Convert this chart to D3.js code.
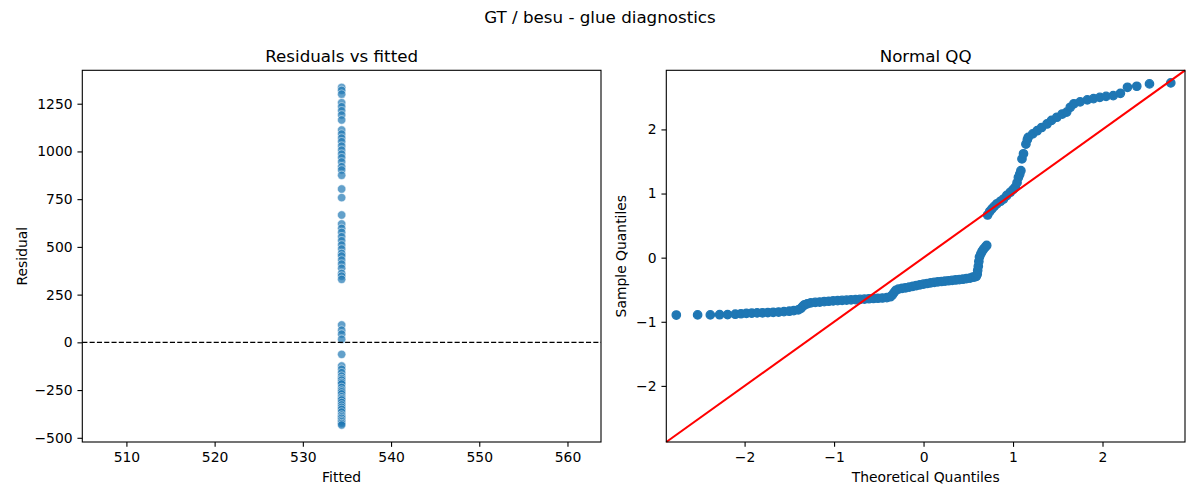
<!DOCTYPE html>
<html>
<head>
<meta charset="utf-8">
<script src="https://cdn.jsdelivr.net/npm/d3@7"></script>
<style>
  body { margin: 0; background: #fff; }
  svg { font-family: "DejaVu Sans", sans-serif; }
</style>
</head>
<body>
<div class="chart"></div>
<script>
// residuals vs fitted (one fitted value for every row)
const fittedValue = 534.4;
const residuals = [1335, 1320, 1300, 1255, 1234, 1213, 1191, 1165, 1112, 1091, 1070, 1051, 1028, 1007,
    986, 967, 945, 920, 903, 875, 803, 758, 667, 620, 597, 576, 553, 532, 510, 489, 466, 452, 431,
    410, 388, 361, 347, 330, 91, 64, 43, 16, -63, -124, -141, -159, -177, -190, -198, -210, -218,
    -236, -250, -259, -270, -285, -295, -302, -315, -328, -340, -351, -365, -381, -390, -398, -408,
    -416, -425, -433];
const residXTicks = [510, 520, 530, 540, 550, 560];
const residYTicks = [-500, -250, 0, 250, 500, 750, 1000, 1250];
const residXDomain = [505.0, 563.8];
const residYDomain = [-522, 1425];

// normal QQ points
const qqTheoretical = [-2.763, -2.525, -2.383, -2.279, -2.190, -2.104, -2.04, -1.98, -1.92, -1.86, -1.80,
    -1.74, -1.68, -1.62, -1.56, -1.50, -1.45, -1.40, -1.37, -1.35, -1.33, -1.30, -1.26, -1.21, -1.16,
    -1.11, -1.06, -1.01, -0.96, -0.91, -0.86, -0.81, -0.76, -0.71, -0.66, -0.61, -0.56, -0.51, -0.46,
    -0.41, -0.37, -0.35, -0.33, -0.31, -0.28, -0.24, -0.20, -0.16, -0.12, -0.08, -0.04, 0.00, 0.04,
    0.08, 0.12, 0.16, 0.20, 0.24, 0.28, 0.32, 0.36, 0.40, 0.44, 0.48, 0.52, 0.55, 0.575, 0.59, 0.600,
    0.605, 0.612, 0.618, 0.625, 0.64, 0.655, 0.672, 0.69, 0.706, 0.716, 0.74, 0.764, 0.79, 0.82, 0.86,
    0.894, 0.93, 0.97, 1.00, 1.025, 1.045, 1.06, 1.075, 1.088, 1.10, 1.117, 1.144, 1.16, 1.17, 1.22,
    1.27, 1.32, 1.38, 1.43, 1.49, 1.55, 1.60, 1.64, 1.68, 1.75, 1.83, 1.90, 1.97, 2.04, 2.12, 2.20,
    2.279, 2.383, 2.525, 2.763];
const qqSample = [-0.895, -0.893, -0.893, -0.890, -0.888, -0.882, -0.875, -0.868, -0.866, -0.862, -0.860,
    -0.856, -0.852, -0.848, -0.842, -0.835, -0.826, -0.815, -0.790, -0.760, -0.735, -0.720, -0.705,
    -0.698, -0.692, -0.686, -0.680, -0.675, -0.670, -0.666, -0.662, -0.658, -0.654, -0.650, -0.646,
    -0.641, -0.637, -0.633, -0.629, -0.624, -0.610, -0.585, -0.545, -0.510, -0.490, -0.480, -0.470,
    -0.460, -0.447, -0.435, -0.423, -0.413, -0.403, -0.393, -0.385, -0.378, -0.372, -0.366, -0.360,
    -0.354, -0.348, -0.342, -0.336, -0.328, -0.318, -0.305, -0.300, -0.290, -0.260, -0.200, -0.135,
    -0.060, 0.010, 0.060, 0.100, 0.135, 0.165, 0.190, 0.665, 0.720, 0.760, 0.800, 0.840, 0.880, 0.915,
    0.970, 1.020, 1.060, 1.100, 1.170, 1.250, 1.300, 1.357, 1.540, 1.620, 1.770, 1.840, 1.877, 1.930,
    1.980, 2.030, 2.085, 2.140, 2.190, 2.240, 2.270, 2.345, 2.400, 2.430, 2.460, 2.480, 2.500, 2.515,
    2.527, 2.563, 2.657, 2.673, 2.710, 2.725];
const qqTicks = [-2, -1, 0, 1, 2];
const qqDomain = [-2.875, 2.922];

const W = 1200, H = 500;
const blue = "#1f77b4";
const tickLen = 4.86;

const svg = d3.select(".chart")
    .append("svg")
    .attr("width", W)
    .attr("height", H);

svg.append("rect").attr("width", W).attr("height", H).attr("fill", "#fff");

// figure title
svg.append("text")
    .attr("x", 600)
    .attr("y", 23)
    .attr("text-anchor", "middle")
    .style("font-size", "16.7px")
    .text("GT / besu - glue diagnostics");

const minus = d => String(d).replace("-", "\u2212");

// draws frame, ticks, labels; returns inner group
function makeAxes(box, x, y, xTicks, yTicks, title, xLabel, yLabel, yLabelX) {
    const g = svg.append("g");

    g.append("g")
        .attr("transform", `translate(0,${box.bottom})`)
        .call(d3.axisBottom(x).tickValues(xTicks).tickFormat(minus)
            .tickSizeInner(tickLen).tickSizeOuter(0).tickPadding(4.86))
        .call(a => a.select(".domain").remove());

    g.append("g")
        .attr("transform", `translate(${box.left},0)`)
        .call(d3.axisLeft(y).tickValues(yTicks).tickFormat(minus)
            .tickSizeInner(tickLen).tickSizeOuter(0).tickPadding(4.86))
        .call(a => a.select(".domain").remove());

    g.selectAll(".tick line").attr("stroke", "#000").attr("stroke-width", 1.1);
    g.selectAll(".tick text")
        .attr("fill", "#000")
        .style("font-family", "DejaVu Sans")
        .style("font-size", "13.9px");

    g.append("text")
        .attr("x", (box.left + box.right) / 2)
        .attr("y", box.top - 8.5)
        .attr("text-anchor", "middle")
        .style("font-size", "16.7px")
        .text(title);

    g.append("text")
        .attr("x", (box.left + box.right) / 2)
        .attr("y", 482)
        .attr("text-anchor", "middle")
        .style("font-size", "13.9px")
        .text(xLabel);

    g.append("text")
        .attr("transform", `translate(${yLabelX},${(box.top + box.bottom) / 2}) rotate(-90)`)
        .attr("text-anchor", "middle")
        .style("font-size", "13.9px")
        .text(yLabel);

    return g;
}

function frame(box) {
    svg.append("rect")
        .attr("x", box.left)
        .attr("y", box.top)
        .attr("width", box.right - box.left)
        .attr("height", box.bottom - box.top)
        .attr("fill", "none")
        .attr("stroke", "#000")
        .attr("stroke-width", 1.1);
}

// ---- left: residuals vs fitted
const boxL = { left: 82.3, right: 601, top: 70.3, bottom: 442 };
const xL = d3.scaleLinear().domain(residXDomain).range([boxL.left, boxL.right]);
const yL = d3.scaleLinear().domain(residYDomain).range([boxL.bottom, boxL.top]);

makeAxes(boxL, xL, yL, residXTicks, residYTicks, "Residuals vs fitted", "Fitted", "Residual", 27);

svg.append("g")
    .selectAll("circle")
    .data(residuals)
    .enter().append("circle")
    .attr("cx", xL(fittedValue))
    .attr("cy", d => yL(d))
    .attr("r", 4.2)
    .attr("fill", blue)
    .attr("fill-opacity", 0.7)
    .attr("stroke", "#fff")
    .attr("stroke-opacity", 0.7)
    .attr("stroke-width", 0.7);

svg.append("line")
    .attr("x1", boxL.left)
    .attr("x2", boxL.right)
    .attr("y1", yL(0))
    .attr("y2", yL(0))
    .attr("stroke", "#000")
    .attr("stroke-width", 1.4)
    .attr("stroke-dasharray", "5.1,2.2");

frame(boxL);

// ---- right: normal QQ
const boxR = { left: 666.3, right: 1185, top: 70.3, bottom: 442 };
const xR = d3.scaleLinear().domain(qqDomain).range([boxR.left, boxR.right]);
const yR = d3.scaleLinear().domain(qqDomain).range([boxR.bottom, boxR.top]);

makeAxes(boxR, xR, yR, qqTicks, qqTicks, "Normal QQ", "Theoretical Quantiles", "Sample Quantiles", 626);

const qq = qqTheoretical.map((t, i) => ({ t: t, s: qqSample[i] }));

svg.append("g")
    .selectAll("circle")
    .data(qq)
    .enter().append("circle")
    .attr("cx", d => xR(d.t))
    .attr("cy", d => yR(d.s))
    .attr("r", 4.2)
    .attr("fill", blue)
    .attr("stroke", blue)
    .attr("stroke-width", 1.3);

// 45 degree reference line
svg.append("line")
    .attr("x1", xR(qqDomain[0]))
    .attr("y1", yR(qqDomain[0]))
    .attr("x2", xR(qqDomain[1]))
    .attr("y2", yR(qqDomain[1]))
    .attr("stroke", "red")
    .attr("stroke-width", 2.08);

frame(boxR);
</script>
</body>
</html>
